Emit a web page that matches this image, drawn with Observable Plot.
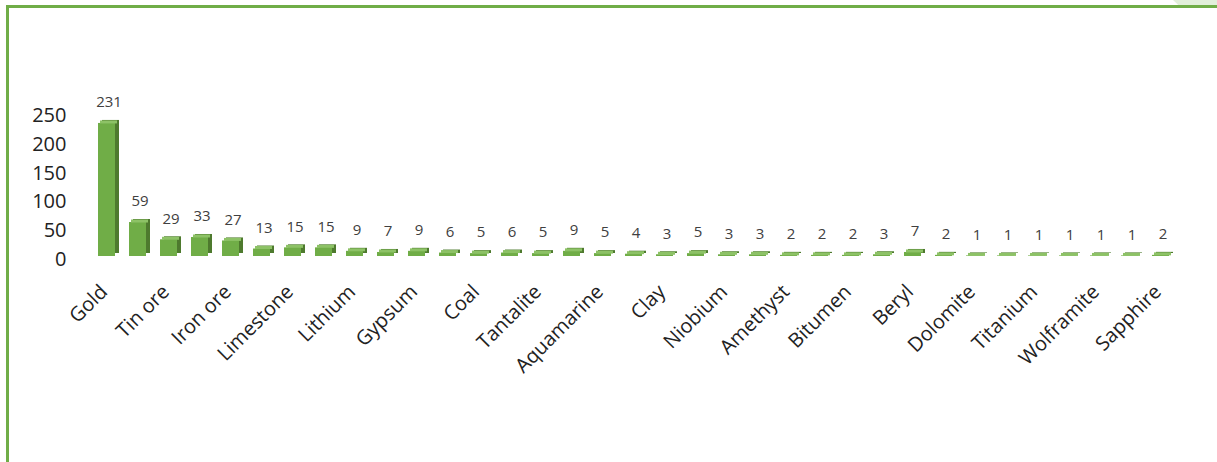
<!DOCTYPE html>
<html>
<head>
<meta charset="utf-8">
<script src="https://cdn.jsdelivr.net/npm/d3@7"></script>
<script src="https://cdn.jsdelivr.net/npm/@observablehq/plot@0.6"></script>
<style>
  html, body { margin: 0; padding: 0; background: #fff; }
  #wrap { position: relative; width: 1217px; height: 462px; overflow: hidden; font-family: "Open Sans", sans-serif; }
  #frame { position: absolute; left: 6px; top: 5px; right: -10px; bottom: -10px; border-top: 3px solid #70AD47; border-left: 3px solid #70AD47; }
  #corner { position: absolute; right: 0; top: 0; width: 44px; height: 5px; background: #E2EFDA; clip-path: polygon(0 0, 100% 0, 100% 100%, 12% 100%); }
  #chart { position: absolute; left: 0; top: 0; }
</style>
</head>
<body>
<div id="wrap">
  <div id="frame"></div>
  <div id="corner"></div>
  <div id="chart"></div>
</div>
<script>
// Categories (every other name is not printed on the original axis)
const categories = [
  "Gold", "(unlabelled 2)", "Tin ore", "(unlabelled 4)", "Iron ore", "(unlabelled 6)",
  "Limestone", "(unlabelled 8)", "Lithium", "(unlabelled 10)", "Gypsum", "(unlabelled 12)",
  "Coal", "(unlabelled 14)", "Tantalite", "(unlabelled 16)", "Aquamarine", "(unlabelled 18)",
  "Clay", "(unlabelled 20)", "Niobium", "(unlabelled 22)", "Amethyst", "(unlabelled 24)",
  "Bitumen", "(unlabelled 26)", "Beryl", "(unlabelled 28)", "Dolomite", "(unlabelled 30)",
  "Titanium", "(unlabelled 32)", "Wolframite", "(unlabelled 34)", "Sapphire"
];
const values = [
  231, 59, 29, 33, 27, 13, 15, 15, 9, 7, 9, 6, 5, 6, 5, 9, 5, 4,
  3, 5, 3, 3, 2, 2, 2, 3, 7, 2, 1, 1, 1, 1, 1, 1, 2
];
const tickLabels = [
  "Gold", "Tin ore", "Iron ore", "Limestone", "Lithium", "Gypsum", "Coal", "Tantalite",
  "Aquamarine", "Clay", "Niobium", "Amethyst", "Bitumen", "Beryl", "Dolomite",
  "Titanium", "Wolframite", "Sapphire"
];
const yTicks = [0, 50, 100, 150, 200, 250];

const data = categories.map((c, i) => ({cat: c, value: values[i]}));
const labelled = data.filter(d => tickLabels.includes(d.cat));

const frontColor = "#70AD47", sideColor = "#4E7A2E", topColor = "#8DC266";

const chart = Plot.plot({
  width: 1217,
  height: 462,
  marginLeft: 84,
  marginRight: 34,
  marginTop: 112,
  marginBottom: 206,
  style: {fontFamily: "'Open Sans', sans-serif", background: "transparent", overflow: "visible"},
  x: {domain: categories, paddingInner: 0.45, paddingOuter: 0.45, axis: null},
  y: {domain: [0, 250], axis: null},
  marks: [
    Plot.axisY(yTicks, {label: null, tickSize: 0, tickPadding: 18, fontSize: 20, fill: "#222", dy: 3, tickFormat: d => d}),
    Plot.barY(data, {x: "cat", y: "value", fill: sideColor, dx: 4, dy: -3}),
    Plot.barY(data, {x: "cat", y: "value", fill: frontColor}),
    Plot.tickY(data, {x: "cat", y: "value", stroke: topColor, strokeWidth: 3, dx: 2, dy: -1.5}),
    Plot.text(data, {x: "cat", y: "value", text: d => String(d.value), dy: -21, dx: 2, fontSize: 15, fill: "#404040"}),
    Plot.text(labelled, {x: "cat", y: () => 0, text: "cat", rotate: -45, textAnchor: "end", lineAnchor: "middle", dx: -3, dy: 32, fontSize: 20, fill: "#222"})
  ]
});
document.getElementById("chart").appendChild(chart);
</script>
</body>
</html>
